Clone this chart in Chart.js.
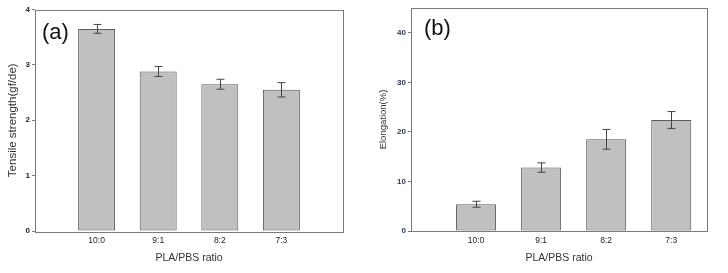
<!DOCTYPE html>
<html>
<head>
<meta charset="utf-8">
<script src="https://cdn.jsdelivr.net/npm/chart.js@4.4.1/dist/chart.umd.min.js"></script>
<style>
html,body{margin:0;padding:0;background:#fff;}
#wrap{position:relative;width:728px;height:273px;overflow:hidden;}
.panel{position:absolute;top:0;width:364px;height:273px;}
</style>
</head>
<body>
<div id="wrap">
  <div class="panel" style="left:0"><canvas id="c1" width="364" height="273"></canvas></div>
  <div class="panel" style="left:364px"><canvas id="c2" width="364" height="273"></canvas></div>
</div>
<script>
// ---- data ----
const categories = ['10:0', '9:1', '8:2', '7:3'];
const positions = [1, 2, 3, 4];
const tensile = [3.65, 2.88, 2.65, 2.55];
const tensileErr = [0.08, 0.09, 0.09, 0.13];
const elongation = [5.4, 12.8, 18.5, 22.4];
const elongationErr = [0.6, 0.95, 2.0, 1.7];
const tensileTicks = [0, 1, 2, 3, 4];
const elongTicks = [0, 10, 20, 30, 40];

const FONT = "'Liberation Sans', Arial, sans-serif";

const framePlugin = {
  id: 'frameAndErr',
  afterDatasetsDraw(chart, args, opts) {
    const ctx = chart.ctx;
    const a = chart.chartArea;
    const meta = chart.getDatasetMeta(0);
    const ys = chart.scales.y;
    const errs = opts.errors;
    const vals = chart.data.datasets[0].data;
    ctx.save();
    ctx.strokeStyle = '#444';
    ctx.lineWidth = 1;
    meta.data.forEach((bar, i) => {
      const v = vals[i].y, e = errs[i];
      const x = Math.round(bar.x) + 0.5;
      const yt = ys.getPixelForValue(v + e);
      const yb = ys.getPixelForValue(v - e);
      ctx.beginPath();
      ctx.moveTo(x, yt); ctx.lineTo(x, yb);
      ctx.moveTo(x - 4, yt); ctx.lineTo(x + 4, yt);
      ctx.moveTo(x - 4, yb); ctx.lineTo(x + 4, yb);
      ctx.stroke();
    });
    ctx.strokeStyle = '#7a7a7a';
    ctx.lineWidth = 1;
    ctx.strokeRect(Math.round(a.left) + 0.5, Math.round(a.top) + 0.5,
                   Math.round(a.right - a.left), Math.round(a.bottom - a.top));
    ctx.fillStyle = '#111';
    ctx.font = "22px " + FONT;
    ctx.textBaseline = 'middle';
    ctx.textAlign = 'left';
    ctx.fillText(opts.label, opts.lx, opts.ly);
    ctx.restore();
  }
};

function makeChart(id, vals, errs, yMax, yTicks, yTitle, yTitleSize, xMax, geom, panelLabel, tickColor) {
  return new Chart(document.getElementById(id), {
    type: 'bar',
    data: {
      datasets: [{
        data: positions.map((p, i) => ({x: p, y: vals[i]})),
        backgroundColor: '#c0c0c0',
        borderColor: '#5a5a5a',
        borderWidth: 1,
        borderSkipped: false,
        categoryPercentage: 1,
        barPercentage: geom.barPct
      }]
    },
    options: {
      responsive: false,
      animation: false,
      devicePixelRatio: 1,
      layout: {padding: {left: 0, right: geom.padRight, top: geom.padTop, bottom: 0}},
      plugins: {
        legend: {display: false},
        tooltip: {enabled: false},
        frameAndErr: {errors: errs, label: panelLabel, lx: geom.lx, ly: geom.ly}
      },
      scales: {
        x: {
          type: 'linear',
          offset: false,
          min: 0,
          max: xMax,
          afterBuildTicks: s => { s.ticks = positions.map(v => ({value: v})); },
          afterFit: s => { s.height = 273 - 231; },
          grid: {display: false, drawTicks: false, offset: false},
          border: {display: false},
          ticks: {
            autoSkip: false,
            maxRotation: 0,
            padding: 5,
            color: '#222',
            font: {family: FONT, size: 8.5},
            callback: v => categories[positions.indexOf(v)]
          },
          title: {
            display: true,
            text: 'PLA/PBS ratio',
            color: '#333',
            font: {family: FONT, size: 10.5},
            padding: {top: 0, bottom: geom.xTitlePad}
          }
        },
        y: {
          min: 0,
          max: yMax,
          afterBuildTicks: s => { s.ticks = yTicks.map(v => ({value: v})); },
          afterFit: s => { s.width = geom.yWidth; },
          grid: {display: true, drawOnChartArea: false, drawTicks: true, tickLength: 3, color: '#7a7a7a'},
          border: {display: false},
          ticks: {
            padding: 2,
            color: tickColor,
            font: {family: FONT, size: 8, weight: 'bold'}
          },
          title: {
            display: true,
            text: yTitle,
            color: '#333',
            font: {family: FONT, size: yTitleSize},
            padding: {top: geom.yTitlePad, bottom: 0}
          }
        }
      }
    },
    plugins: [framePlugin]
  });
}

makeChart('c1', tensile, tensileErr, 4, tensileTicks, 'Tensile strength(gf/de)', 11.5, 5,
  {barPct: 0.6, padRight: 21, padTop: 9.5, yWidth: 35, xTitlePad: 9, yTitlePad: 6, lx: 42, ly: 33},
  '(a)', '#222');
makeChart('c2', elongation, elongationErr, 45, elongTicks, 'Elongation(%)', 9.5, 4.55,
  {barPct: 0.615, padRight: 21, padTop: 8, yWidth: 47, xTitlePad: 9, yTitlePad: 14, lx: 60, ly: 29},
  '(b)', '#2b3b58');
</script>
</body>
</html>
